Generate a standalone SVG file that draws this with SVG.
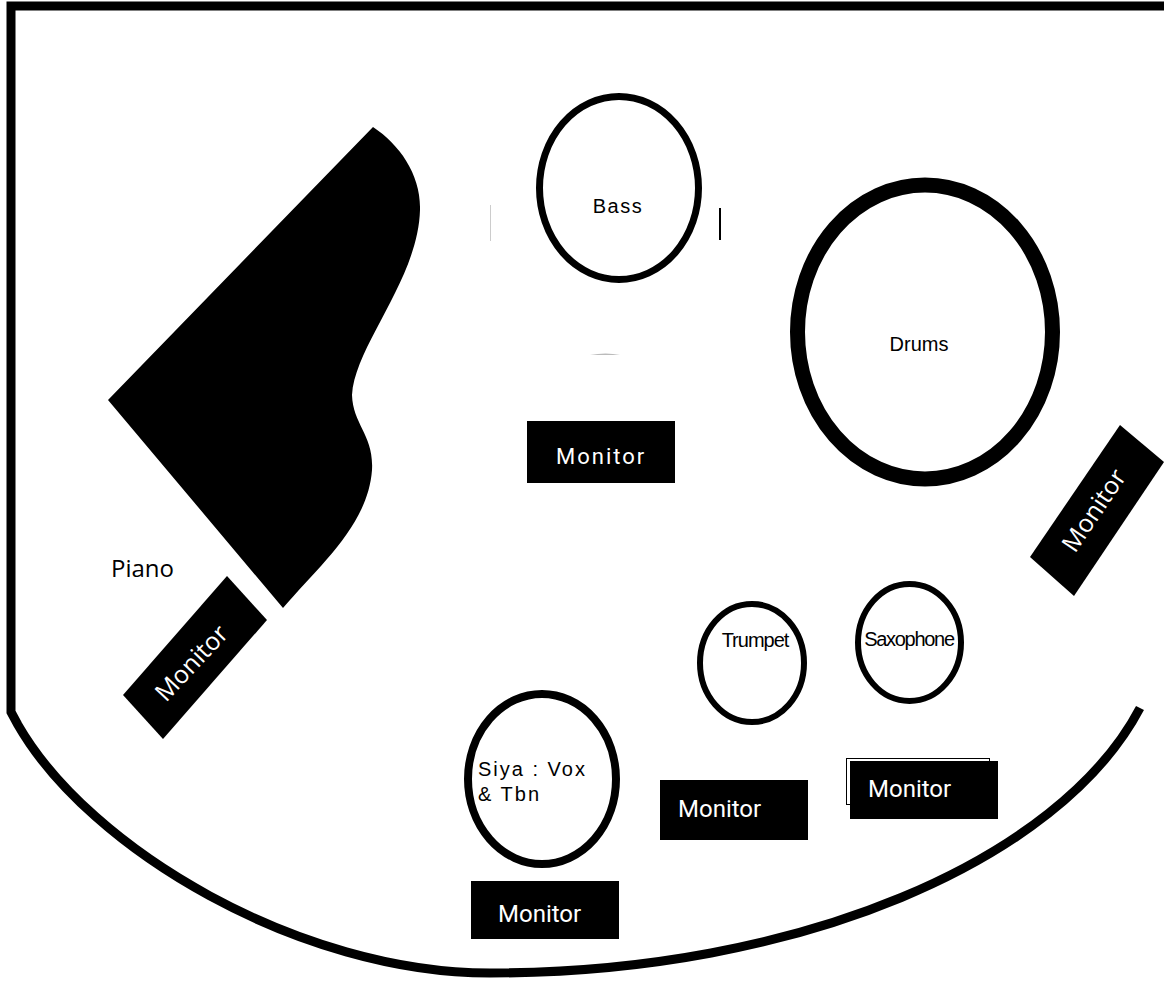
<svg xmlns="http://www.w3.org/2000/svg" width="1164" height="981" viewBox="0 0 1164 981">
<style>
.r{fill:#fff;stroke:#000}
.m{fill:#000}
.t{font-family:"Liberation Sans",Arial,sans-serif;font-size:20px;fill:#000}
.w{font-family:"Roboto","Liberation Sans",sans-serif;font-size:24px;fill:#fff}
</style>
<defs>
<clipPath id="c1"><rect x="660" y="780" width="148" height="38"/></clipPath>
<clipPath id="c2"><rect x="850" y="761" width="148" height="36"/></clipPath>
<clipPath id="c3"><rect x="471" y="881" width="148" height="43"/></clipPath>
</defs>
<rect width="1164" height="981" fill="#fff"/>
<g id="stage"><path d="M1140,708 C1060,860 800,973 490,973 C300,973 90,850 18,725 L11,712 L11,6 L1164,6" fill="none" stroke="#000" stroke-width="9"/><rect x="1145" y="640" width="19" height="100" fill="#fff"/></g>
<g id="piano"><path class="m" d="M373,127 C400,145 421,175 420,210 C418,280 355,345 352,395 C353,425 374,435 372,470 C368,525 320,565 283,608 L108,400 Z"/></g>
<g id="bass"><ellipse class="r" cx="619" cy="188" rx="79.500" ry="91.500" stroke-width="7"/><text class="t" x="618" y="213" text-anchor="middle" letter-spacing="1.500">Bass</text></g>
<g id="marks"><rect x="719" y="208" width="2" height="32" fill="#000"/><rect x="490" y="205" width="1" height="36" fill="#ccc"/><path d="M590,355 Q606,352 620,355 Z" fill="#bbb"/></g>
<g id="drums"><ellipse class="r" cx="925" cy="332" rx="127.500" ry="147" stroke-width="15"/><text class="t" x="919" y="351" text-anchor="middle">Drums</text></g>
<g id="trumpet"><ellipse class="r" cx="752" cy="663" rx="52" ry="59" stroke-width="6"/><text class="t" x="755" y="647" text-anchor="middle" letter-spacing="-1">Trumpet</text></g>
<g id="saxophone"><ellipse class="r" cx="909.500" cy="642.500" rx="51.500" ry="58.500" stroke-width="6"/><text class="t" x="909" y="646" text-anchor="middle" letter-spacing="-1.300">Saxophone</text></g>
<g id="siya"><ellipse class="r" cx="542" cy="779" rx="74" ry="85" stroke-width="8"/><text class="t" x="478" y="776" letter-spacing="2">Siya : Vox</text><text class="t" x="478" y="801" letter-spacing="2">&amp; Tbn</text><text x="580" y="846" font-family="Roboto,sans-serif" font-size="24" fill="#000" opacity="0">or</text></g>
<g id="monitor1"><rect class="m" x="527" y="421" width="148" height="62"/><text class="w" x="556" y="464" font-size="22" style="font-size:22px" letter-spacing="2">Monitor</text></g>
<g id="monitor2"><rect class="m" x="660" y="780" width="148" height="60"/><text class="w" x="678" y="817" clip-path="url(#c1)">Monitor</text></g>
<g id="monitor3"><rect x="846.500" y="758.500" width="143" height="46" fill="none" stroke="#000"/><rect class="m" x="850" y="761" width="148" height="58"/><text class="w" x="868" y="797" clip-path="url(#c2)">Monitor</text></g>
<g id="monitor4"><rect class="m" x="471" y="881" width="148" height="58"/><text class="w" x="498" y="922" clip-path="url(#c3)">Monitor</text></g>
<g id="monitor5"><polygon class="m" points="1120,425 1164,462 1074,596 1030,557"/><text class="w" x="0" y="0" transform="translate(1075,554) rotate(-56)" style="font-family:'Open Sans',sans-serif;font-size:25px">Monitor</text></g>
<g id="monitor6"><polygon class="m" points="227,576 267,620 163,739 123,695"/><text class="w" x="0" y="0" transform="translate(166,703) rotate(-47)" style="font-family:'Open Sans',sans-serif;font-size:25px">Monitor</text></g>
<g id="pianolabel"><text x="111" y="577" font-family="Open Sans,sans-serif" font-size="24" fill="#000">Piano</text></g>
</svg>
